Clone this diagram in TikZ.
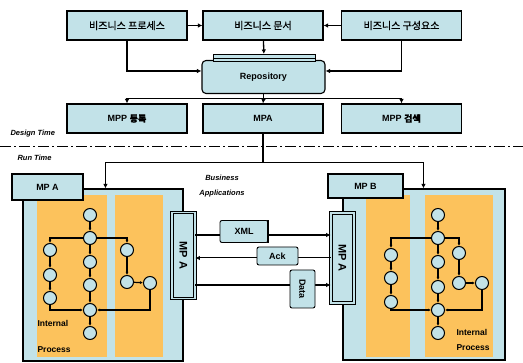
\documentclass[tikz,border=0pt]{standalone}
\usepackage{fontspec}
\setmainfont{Liberation Sans}
\newfontfamily\krfont[FakeBold=1]{Noto Sans CJK KR}
\usetikzlibrary{arrows.meta,calc}
\definecolor{lb}{RGB}{194,226,232}
\definecolor{org}{RGB}{252,194,92}
\begin{document}
\begin{tikzpicture}[x=1pt,y=-1pt,
  box/.style={draw,line width=1.1pt,fill=lb,minimum width=120pt,minimum height=29pt,inner sep=0pt},
  kr/.style={font=\krfont\fontsize{10}{12}\selectfont},
  en/.style={font=\bfseries\fontsize{9}{11}\selectfont},
  lbl/.style={font=\bfseries\itshape\fontsize{7.5}{9}\selectfont},
  pn/.style={circle,draw,line width=1pt,fill=lb,minimum size=13pt,inner sep=0pt},
  con/.style={line width=1.3pt,-{Latex[length=4.5pt,width=4.5pt]}},
  pe/.style={line width=1.2pt,-{Latex[length=3pt,width=3pt]}},
  area/.style={fill=lb,draw,line width=1.1pt,inner sep=0pt},
  orng/.style={fill=org,inner sep=0pt},
  bar/.style={draw,line width=0.8pt,double=lb,double distance=1.6pt,fill=lb,inner sep=0pt,minimum width=23pt,minimum height=86pt},
  doc/.style={draw,line width=0.9pt,fill=lb,rounded corners=2pt,inner sep=0pt}
]
\useasboundingbox (0,0) rectangle (523,363);
% top row
\node[box,kr] (b1) at (127,25.5) {비즈니스 프로세스};
\node[box,kr] (b2) at (263,25.5) {비즈니스 문서};
\node[box,kr] (b3) at (401.5,25.5) {비즈니스 구성요소};
% repository
\node[draw,line width=1.1pt,fill=lb,rounded corners=4pt,minimum width=123pt,minimum height=33pt,inner sep=0pt,en] (rep) at (263.5,77) {Repository};
\node[draw,line width=1pt,fill=lb,minimum width=102pt,minimum height=7pt,inner sep=0pt] (tab) at (264,58) {};
\draw[line width=0.6pt] (tab.west) -- (tab.east);
% second row
\node[box,en] (m1) at (127,118.5) {MPP {\krfont 등록}};
\node[box,en] (m2) at (263,118.5) {MPA};
\node[box,en] (m3) at (401.5,118.5) {MPP {\krfont 검색}};
% top connectors
\draw[con] (b1) -- (b2);
\draw[con] (b3) -- (b2);
\draw[con] (b2) -- (tab);
\draw[con] (b1.south) |- ($(rep.west)+(0,-6)$);
\draw[con] (b3.south) |- ($(rep.east)+(0,-6)$);
\coordinate (bus1) at ($(rep.south)+(0,4.5)$);
\draw[line width=1.3pt] (rep.south) -- (bus1);
\draw[con] (bus1) -| (m1.north);
\draw[con] (bus1) -- (m2.north);
\draw[con] (bus1) -| (m3.north);
% separator
\draw[line width=0.9pt,dash pattern=on 11pt off 3pt on 2pt off 3pt] (0,146) -- (523,146);
\node[lbl,anchor=west] (dt) at (7,134) {Design Time};
\node[lbl,anchor=west] (rt) at (14,158) {Run Time};
% areas
\node[area,minimum width=160pt,minimum height=172pt] (LA) at (103,275) {};
\node[area,minimum width=162pt,minimum height=171pt] (RA) at (424,274.5) {};
\node[orng,minimum width=70pt,minimum height=162pt] (LO1) at (72,276) {};
\node[orng,minimum width=48pt,minimum height=162pt] (LO2) at (139,276) {};
\node[orng,minimum width=44pt,minimum height=162pt] (RO1) at (388,276) {};
\node[orng,minimum width=68pt,minimum height=162pt] (RO2) at (459,276) {};
% run time bus
\coordinate (bus2) at ($(m2.south)+(0,29)$);
\draw[line width=1.8pt] (m2.south) -- (bus2);
\draw[con,line width=1.8pt] (bus2) -| ($(LA.north west)+(83,0)$);
\draw[con,line width=1.8pt] (bus2) -| ($(RA.north west)+(81,0)$);
\node[box,en,minimum width=71pt,minimum height=26pt] (mpa) at (47.5,187) {MP A};
\node[box,en,minimum width=75pt,minimum height=24pt] (mpb) at (365.5,186) {MP B};
\node[lbl,align=center] (ba) at (222,186) {Business\\[6pt]Applications};
% bars
\node[bar] (barL) at (183.5,255.5) {};
\node[bar,minimum height=90pt] (barR) at (342.5,258) {};
\node[en,font=\bfseries\fontsize{11}{13}\selectfont,rotate=-90] (tL) at (barL) {MP A};
\node[en,font=\bfseries\fontsize{11}{13}\selectfont,rotate=-90] (tR) at (barR) {MP A};
% messages
\coordinate (yx) at (0,235);
\coordinate (ya) at (0,258);
\coordinate (yd) at (0,285);
\draw[con,line width=1.8pt] (barL.east |- yx) -- (barR.west |- yx);
\draw[con,line width=1pt] (barR.west |- ya) -- (barL.east |- ya);
\draw[con,line width=1.8pt] (barL.east |- yd) -- (barR.west |- yd);
\node[doc,minimum width=48pt,minimum height=22pt,en] (xml) at (244,231.5) {XML};
\draw[line width=2pt] (xml.north east) -- (xml.south east);
\node[doc,minimum width=41pt,minimum height=18pt,en] (ack) at (277.5,256) {Ack};
\node[doc,minimum width=25pt,minimum height=38pt] (data) at (302.5,289) {};
\node[en,rotate=-90] (datat) at (data) {Data};
% left process
\node[pn] (l1) at (90,215) {};
\node[pn] (l2) at (90,238) {};
\node[pn] (l3) at (90,262) {};
\node[pn] (l4) at (90,285) {};
\node[pn] (l5) at (90,310) {};
\node[pn] (l6) at (90,333) {};
\node[pn] (la1) at (50,250) {};
\node[pn] (la2) at (50,275) {};
\node[pn] (la3) at (50,298) {};
\node[pn] (lb1) at (127,250) {};
\node[pn] (lb2) at (127,282) {};
\node[pn] (lc) at (150,283) {};
\draw[pe] (l1) -- (l2);
\draw[pe] (l2) -| (la1);
\draw[pe] (l2) -| (lb1);
\draw[pe] (l2) -- (l3);
\draw[pe] (l3) -- (l4);
\draw[pe] (l4) -- (l5);
\draw[pe] (l5) -- (l6);
\draw[pe] (la1) -- (la2);
\draw[pe] (la2) -- (la3);
\draw[pe] (la3) |- (l5);
\draw[pe] (lb1) -- (lb2);
\draw[pe] (lb2) -- (lc);
\draw[pe] (lc) |- (l5);
% right process
\node[pn] (r1) at (438,215) {};
\node[pn] (r2) at (438,238) {};
\node[pn] (r3) at (438,262) {};
\node[pn] (r4) at (438,287) {};
\node[pn] (r5) at (438,310) {};
\node[pn] (r6) at (438,333) {};
\node[pn] (ra1) at (391,255) {};
\node[pn] (ra2) at (391,278) {};
\node[pn] (ra3) at (391,302) {};
\node[pn] (rb1) at (459,253) {};
\node[pn] (rb2) at (459,283) {};
\node[pn] (rc) at (482,283) {};
\draw[pe] (r1) -- (r2);
\draw[pe] (r2) -| (ra1);
\draw[pe] (r2) -| (rb1);
\draw[pe] (r2) -- (r3);
\draw[pe] (r3) -- (r4);
\draw[pe] (r4) -- (r5);
\draw[pe] (r5) -- (r6);
\draw[pe] (ra1) -- (ra2);
\draw[pe] (ra2) -- (ra3);
\draw[pe] (ra3) |- (r5);
\draw[pe] (rb1) -- (rb2);
\draw[pe] (rb2) -- (rc);
\draw[pe] (rc) |- (r5);
% internal process labels
\node[font=\bfseries\fontsize{8.5}{10}\selectfont,align=left,anchor=west] (ipl) at (34,336) {Internal\\[16pt]Process};
\node[font=\bfseries\fontsize{8.5}{10}\selectfont,align=left,anchor=west] (ipr) at (453,340) {Internal\\[5pt]Process};
\end{tikzpicture}
\end{document}
